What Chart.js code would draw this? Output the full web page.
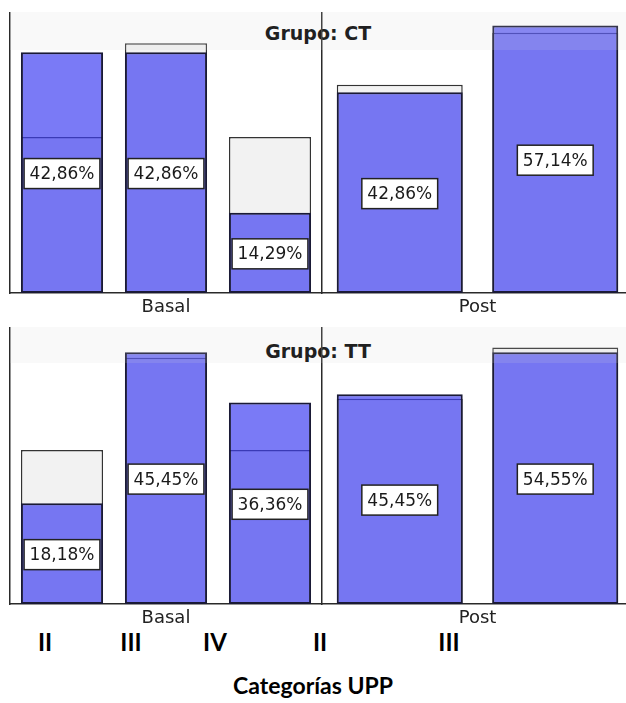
<!DOCTYPE html>
<html><head><meta charset="utf-8">
<script src="https://cdn.jsdelivr.net/npm/chart.js@4.4.1/dist/chart.umd.min.js"></script>
<style>
html,body{margin:0;padding:0;background:#fff;}
#wrap{position:relative;width:626px;height:703px;overflow:hidden;background:#fff;}
canvas{position:absolute;z-index:2;}
.band{position:absolute;left:10px;width:616px;background:rgba(215,215,215,0.15);z-index:3;}
.gtitle{position:absolute;left:10px;width:616px;height:24px;line-height:24px;text-align:center;font-family:"DejaVu Sans";font-weight:bold;font-size:19px;color:#000;z-index:1;}
.tick{position:absolute;height:30px;line-height:30px;font-family:Lato;font-weight:bold;font-size:24px;color:#000;transform:translateX(-50%);white-space:nowrap;}
</style></head><body>
<div id="wrap">
  <div class="gtitle" id="t0" style="top:21px"></div>
  <div class="band" style="top:12px;height:38px"></div>
  <canvas id="ctBasal" width="322" height="308" style="left:0;top:12px"></canvas>
  <canvas id="ctPost" width="321" height="308" style="left:312px;top:12px"></canvas>
  <div class="gtitle" id="t1" style="top:339px"></div>
  <div class="band" style="top:327px;height:36px"></div>
  <canvas id="ttBasal" width="322" height="304" style="left:0;top:327px"></canvas>
  <canvas id="ttPost" width="321" height="304" style="left:312px;top:327px"></canvas>
  <div id="ticks"></div>
</div>
<script>
const groups = ['CT', 'TT'];
const periods = ['Basal', 'Post'];
const basalCats = ['II', 'III', 'IV'];
const postCats = ['II', 'III'];
// percentage of each UPP category within the group
const ctBasal = [42.86, 42.86, 14.29];
const ctPost = [42.86, 57.14];
const ttBasal = [18.18, 45.45, 36.36];
const ttPost = [45.45, 54.55];
// overall (both groups) percentages, drawn as grey reference bars
const totalBasal = [27.78, 44.44, 27.78];
const totalPost = [44.44, 55.56];
const axisMax = [50, 60];
const bottomTickLabels = ['II', 'III', 'IV', 'II', 'III'];
const axisTitle = 'Categorías UPP';

const labelPlugin = {
  id: 'pctLabels',
  afterDatasetsDraw(chart) {
    const ctx = chart.ctx;
    const meta = chart.getDatasetMeta(0);
    const vals = chart.data.datasets[0].data;
    ctx.save();
    ctx.font = '17px "DejaVu Sans"';
    ctx.textAlign = 'center';
    ctx.textBaseline = 'middle';
    meta.data.forEach((bar, i) => {
      const txt = vals[i].toFixed(2).replace('.', ',') + '%';
      const w = ctx.measureText(txt).width + 11;
      const h = 30;
      const cx = bar.x;
      const cy = (bar.y + bar.base) / 2 + 1;
      ctx.fillStyle = '#ffffff';
      ctx.fillRect(cx - w / 2, cy - h / 2, w, h);
      ctx.strokeStyle = '#222';
      ctx.lineWidth = 1.5;
      ctx.strokeRect(cx - w / 2, cy - h / 2, w, h);
      ctx.fillStyle = '#1a1a1a';
      ctx.fillText(txt, cx, cy + 1);
    });
    ctx.restore();
  }
};

function makeChart(id, cats, values, totals, yMax, period, bp) {
  new Chart(document.getElementById(id), {
    type: 'bar',
    data: {
      labels: cats,
      datasets: [
        { label: 'Grupo', data: values, backgroundColor: 'rgba(62,62,242,0.69)', borderColor: '#1a1a36',
          borderWidth: 2, borderSkipped: false, grouped: false, order: 0, barPercentage: bp, categoryPercentage: 1 },
        { label: 'Total', data: totals, backgroundColor: '#f2f2f2', borderColor: '#333',
          borderWidth: 1.5, borderSkipped: false, grouped: false, order: 1, barPercentage: bp, categoryPercentage: 1 }
      ]
    },
    options: {
      responsive: false, animation: false, devicePixelRatio: 1,
      layout: { padding: 0 },
      plugins: { legend: { display: false }, tooltip: { enabled: false } },
      scales: {
        x: {
          grid: { display: false, drawTicks: false },
          border: { display: true, color: '#2a2a2a', width: 1.5 },
          ticks: { display: false },
          title: { display: true, text: period, color: '#222', font: { family: 'DejaVu Sans', size: 18 }, padding: { top: 2, bottom: 2 } },
          afterFit: s => { s.height = 27; }
        },
        y: {
          min: 0, max: yMax,
          grid: { display: false, drawTicks: false },
          border: { display: true, color: '#2a2a2a', width: 1.5 },
          ticks: { display: false },
          afterFit: s => { s.width = 10; }
        }
      }
    },
    plugins: [labelPlugin]
  });
}

makeChart('ctBasal', basalCats, ctBasal, totalBasal, axisMax[0], periods[0], 0.79);
makeChart('ctPost', postCats, ctPost, totalPost, axisMax[1], periods[1], 0.81);
makeChart('ttBasal', basalCats, ttBasal, totalBasal, axisMax[0], periods[0], 0.79);
makeChart('ttPost', postCats, ttPost, totalPost, axisMax[1], periods[1], 0.81);

document.getElementById('t0').textContent = 'Grupo: ' + groups[0];
document.getElementById('t1').textContent = 'Grupo: ' + groups[1];

const tickX = [45, 131, 215, 320, 449];
const tickHost = document.getElementById('ticks');
bottomTickLabels.forEach((t, i) => {
  const d = document.createElement('div');
  d.className = 'tick';
  d.style.left = tickX[i] + 'px';
  d.style.top = '627px';
  d.textContent = t;
  tickHost.appendChild(d);
});
const at = document.createElement('div');
at.className = 'tick';
at.style.left = '313px';
at.style.top = '670px';
at.style.fontSize = '23px';
at.textContent = axisTitle;
tickHost.appendChild(at);
</script>
</body></html>
